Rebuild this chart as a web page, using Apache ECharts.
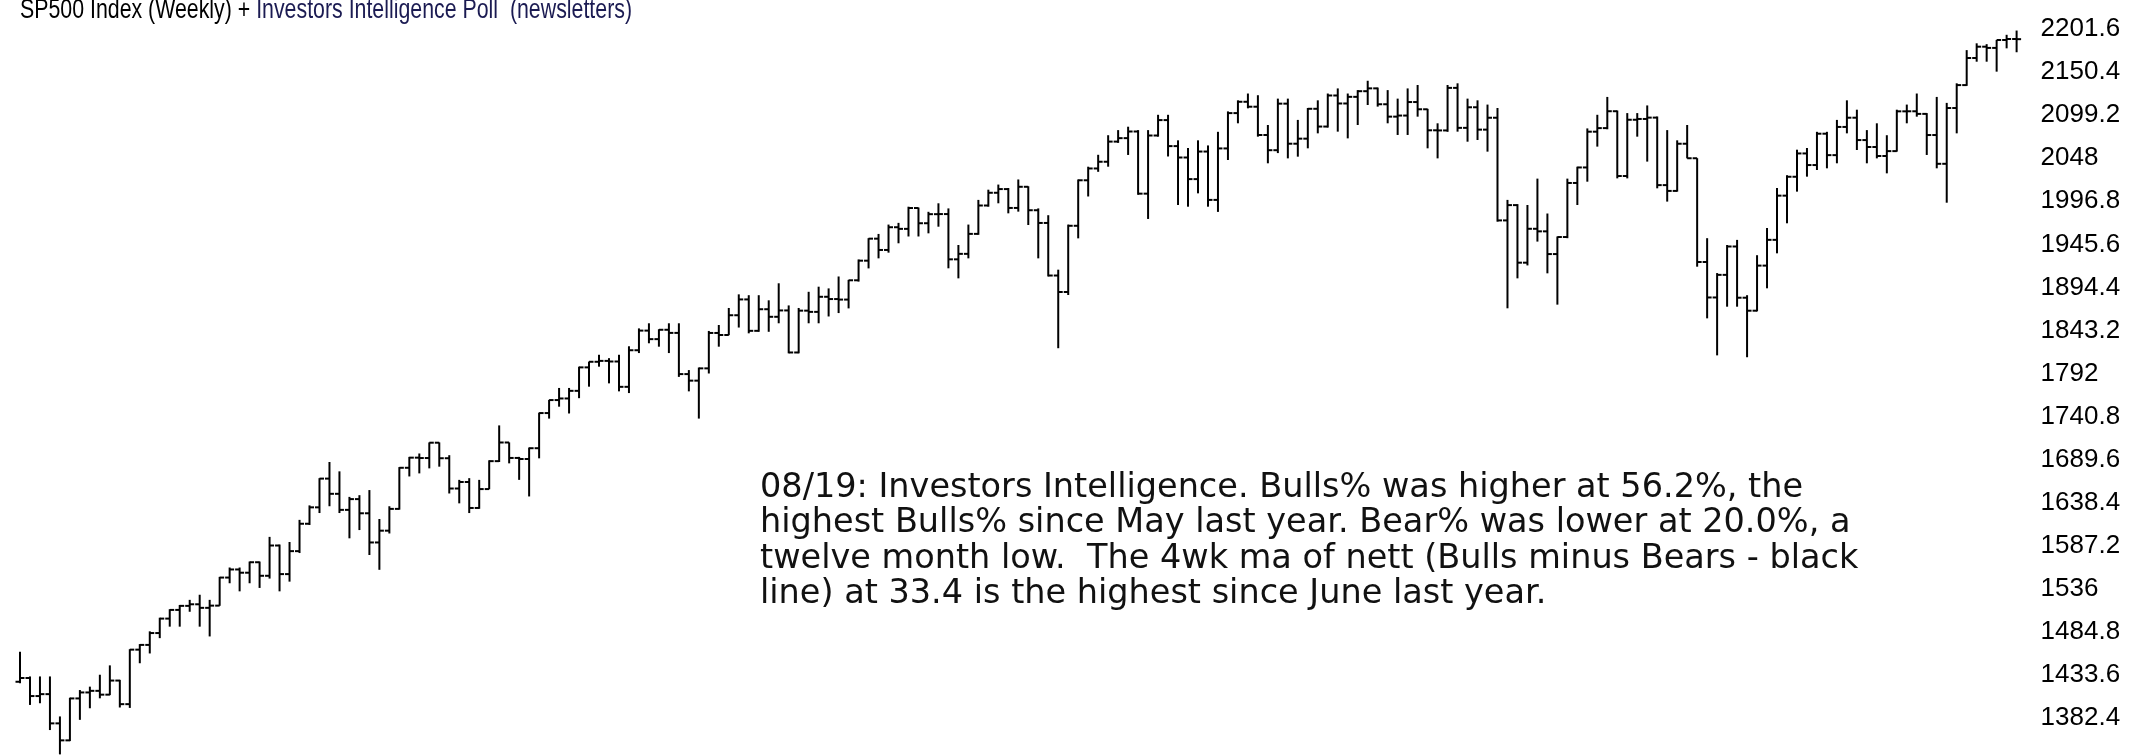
<!DOCTYPE html>
<html>
<head>
<meta charset="utf-8">
<script src="https://cdn.jsdelivr.net/npm/echarts@6/dist/echarts.min.js"></script>
<style>
    html, body { margin: 0; padding: 0; background: #fff; }
    #sp500-weekly { width: 2146px; height: 756px; }
</style>
</head>
<body>
<div id="sp500-weekly"></div>
<script>
// weekly S&P 500 bars, week ending 2012-10-19 .. 2016-08-19
let firstWeek = '2012-10-19';

let opens = [
    1428.75, 1433.19, 1411.94, 1414.20, 1379.85, 1359.88, 1409.15, 1416.18, 1418.07, 1413.58,
    1430.15, 1402.43, 1466.47, 1472.05, 1485.98, 1502.96, 1513.17, 1517.93, 1519.79, 1515.60,
    1518.20, 1551.18, 1560.70, 1556.89, 1569.19, 1553.28, 1588.85, 1555.25, 1582.24, 1614.42,
    1633.70, 1667.47, 1649.60, 1630.74, 1643.38, 1626.73, 1592.43, 1606.28, 1631.89, 1680.19,
    1692.09, 1691.65, 1709.67, 1691.42, 1655.83, 1663.50, 1632.97, 1655.17, 1687.99, 1709.91,
    1691.75, 1690.50, 1703.20, 1744.50, 1759.77, 1761.64, 1770.61, 1798.18, 1804.76, 1805.81,
    1805.09, 1775.32, 1818.32, 1841.40, 1831.37, 1842.37, 1838.70, 1790.29, 1782.59, 1797.02,
    1838.63, 1836.25, 1859.45, 1878.04, 1841.13, 1866.52, 1857.62, 1865.09, 1815.69, 1864.85,
    1863.40, 1881.14, 1878.48, 1877.86, 1900.53, 1923.57, 1949.44, 1936.16, 1962.87, 1960.96,
    1985.44, 1967.57, 1978.22, 1978.34, 1925.15, 1931.59, 1955.06, 1988.40, 2003.37, 2007.71,
    1985.54, 2010.40, 1982.85, 1967.90, 1906.13, 1886.76, 1964.58, 2018.05, 2031.92, 2039.82,
    2063.50, 2067.56, 2075.37, 2002.33, 2070.65, 2088.77, 2058.20, 2044.81, 2019.42, 2051.82,
    1994.99, 2055.47, 2096.99, 2110.30, 2104.50, 2071.26, 2053.40, 2108.10, 2061.02, 2066.96,
    2102.06, 2081.18, 2117.69, 2108.29, 2116.10, 2122.73, 2126.06, 2107.39, 2092.83, 2094.11,
    2109.99, 2101.49, 2076.78, 2076.62, 2126.64, 2079.65, 2103.84, 2077.57, 2091.54, 1970.89,
    1988.87, 1921.22, 1961.05, 1958.03, 1931.34, 1951.36, 2014.89, 2033.11, 2075.15, 2079.36,
    2099.20, 2023.04, 2089.17, 2090.11, 2091.69, 2012.37, 2005.55, 2060.99, 2043.94, 1922.03,
    1880.33, 1906.90, 1940.24, 1880.05, 1864.78, 1917.78, 1948.05, 1999.99, 2022.19, 2049.58,
    2035.94, 2072.78, 2047.60, 2080.73, 2091.58, 2065.30, 2057.14, 2046.61, 2052.32, 2099.06,
    2099.13, 2096.07, 2071.22, 2037.41, 2102.95, 2129.90, 2161.74, 2175.03, 2173.60, 2182.87,
    2184.05
];

let highs = [
    1464, 1435, 1435, 1435, 1388, 1410, 1419, 1423, 1437, 1448,
    1431, 1467, 1473, 1488, 1504, 1514, 1519, 1525, 1531, 1525,
    1552, 1563, 1563, 1570, 1570, 1599, 1590, 1593, 1619, 1636,
    1668, 1687, 1676, 1646, 1648, 1654, 1620, 1635, 1681, 1693,
    1697, 1710, 1710, 1695, 1666, 1668, 1666, 1689, 1730, 1710,
    1693, 1704, 1745, 1760, 1774, 1774, 1799, 1805, 1813, 1809,
    1813, 1823, 1844, 1850, 1843, 1850, 1850, 1795, 1798, 1841,
    1848, 1868, 1884, 1883, 1883, 1877, 1897, 1871, 1868, 1887,
    1893, 1891, 1905, 1901, 1925, 1950, 1955, 1966, 1968, 1987,
    1986, 1981, 1991, 1985, 1942, 1966, 1995, 2007, 2013, 2009,
    2019, 2011, 1985, 1977, 1913, 1966, 2019, 2034, 2048, 2071,
    2077, 2081, 2077, 2077, 2095, 2095, 2065, 2056, 2065, 2059,
    2075, 2099, 2112, 2120, 2118, 2083, 2114, 2114, 2089, 2103,
    2112, 2120, 2126, 2120, 2124, 2135, 2127, 2124, 2114, 2126,
    2130, 2102, 2085, 2130, 2132, 2114, 2112, 2107, 2103, 1995,
    1990, 1989, 2020, 1979, 1952, 2020, 2034, 2079, 2095, 2116,
    2100, 2097, 2097, 2106, 2093, 2077, 2065, 2083, 2044, 1950,
    1909, 1942, 1948, 1883, 1930, 1962, 2009, 2024, 2054, 2056,
    2075, 2075, 2089, 2112, 2101, 2077, 2085, 2071, 2101, 2107,
    2120, 2097, 2116, 2109, 2132, 2171, 2179, 2178, 2183, 2189,
    2194
];

let lows = [
    1427, 1401.5, 1403.5, 1372, 1343.4, 1359, 1384, 1397.6, 1409.3, 1413,
    1398.5, 1398, 1450.5, 1462, 1480, 1493.5, 1493.5, 1511, 1493.5, 1482,
    1518, 1544.5, 1535, 1544.5, 1539, 1550, 1535, 1546.4, 1580, 1613,
    1627, 1635, 1627, 1597.3, 1607, 1577.7, 1560.3, 1603, 1631, 1670,
    1673.6, 1679.5, 1681.5, 1650, 1638.4, 1627, 1632, 1655, 1687, 1685.4,
    1666, 1646.5, 1691.3, 1738, 1752, 1744, 1762, 1775.5, 1799, 1779.4,
    1770, 1768, 1815, 1826.5, 1822.5, 1815, 1787, 1770, 1738, 1791,
    1822.5, 1836, 1845, 1838.2, 1840, 1840, 1850, 1814.7, 1814.7, 1850,
    1850, 1858, 1862, 1867.5, 1899, 1914.5, 1926.3, 1933, 1944, 1952,
    1952, 1955.7, 1963.5, 1914.6, 1902.8, 1926.3, 1954, 1987, 1991, 1979.2,
    1981.2, 1965.5, 1926.3, 1905, 1820.7, 1883.2, 1949.8, 1999, 2028, 2034,
    2062, 2047.8, 2001, 1972.6, 2069.3, 2046, 1989, 1987, 2002.7, 1987,
    1980.9, 2041.9, 2085, 2102.6, 2069.3, 2038, 2050, 2043.8, 2045.8, 2055.6,
    2073.2, 2080, 2075.2, 2067.3, 2083, 2106.5, 2104.6, 2085, 2071.3, 2071.3,
    2092.8, 2055.6, 2043.8, 2075, 2075.2, 2063.4, 2065.4, 2051.7, 1969.4, 1867.6,
    1902.8, 1918, 1946, 1908.7, 1871.9, 1950, 1989, 2016.4, 2057.6, 2078,
    2020.3, 2020.3, 2069.3, 2040, 2008.6, 1993, 2004.7, 2043.8, 1916.5, 1855.8,
    1812.3, 1869.5, 1869.5, 1810.1, 1864, 1891.1, 1932.2, 1967.5, 2004.7, 2022.3,
    2030.1, 2032.1, 2038, 2073.2, 2053.6, 2038, 2043.8, 2026.2, 2051.7, 2085,
    2092.8, 2047.8, 2032.1, 1991.7, 2073.2, 2129, 2157.4, 2157.4, 2145.7, 2173.1,
    2168.5
];

let closes = [
    1433.19, 1411.94, 1414.20, 1379.85, 1359.88, 1409.15, 1416.18, 1418.07, 1413.58, 1430.15,
    1402.43, 1466.47, 1472.05, 1485.98, 1502.96, 1513.17, 1517.93, 1519.79, 1515.60, 1518.20,
    1551.18, 1560.70, 1556.89, 1569.19, 1553.28, 1588.85, 1555.25, 1582.24, 1614.42, 1633.70,
    1667.47, 1649.60, 1630.74, 1643.38, 1626.73, 1592.43, 1606.28, 1631.89, 1680.19, 1692.09,
    1691.65, 1709.67, 1691.42, 1655.83, 1663.50, 1632.97, 1655.17, 1687.99, 1709.91, 1691.75,
    1690.50, 1703.20, 1744.50, 1759.77, 1761.64, 1770.61, 1798.18, 1804.76, 1805.81, 1805.09,
    1775.32, 1818.32, 1841.40, 1831.37, 1842.37, 1838.70, 1790.29, 1782.59, 1797.02, 1838.63,
    1836.25, 1859.45, 1878.04, 1841.13, 1866.52, 1857.62, 1865.09, 1815.69, 1864.85, 1863.40,
    1881.14, 1878.48, 1877.86, 1900.53, 1923.57, 1949.44, 1936.16, 1962.87, 1960.96, 1985.44,
    1967.57, 1978.22, 1978.34, 1925.15, 1931.59, 1955.06, 1988.40, 2003.37, 2007.71, 1985.54,
    2010.40, 1982.85, 1967.90, 1906.13, 1886.76, 1964.58, 2018.05, 2031.92, 2039.82, 2063.50,
    2067.56, 2075.37, 2002.33, 2070.65, 2088.77, 2058.20, 2044.81, 2019.42, 2051.82, 1994.99,
    2055.47, 2096.99, 2110.30, 2104.50, 2071.26, 2053.40, 2108.10, 2061.02, 2066.96, 2102.06,
    2081.18, 2117.69, 2108.29, 2116.10, 2122.73, 2126.06, 2107.39, 2092.83, 2094.11, 2109.99,
    2101.49, 2076.78, 2076.62, 2126.64, 2079.65, 2103.84, 2077.57, 2091.54, 1970.89, 1988.87,
    1921.22, 1961.05, 1958.03, 1931.34, 1951.36, 2014.89, 2033.11, 2075.15, 2079.36, 2099.20,
    2023.04, 2089.17, 2090.11, 2091.69, 2012.37, 2005.55, 2060.99, 2043.94, 1922.03, 1880.33,
    1906.90, 1940.24, 1880.05, 1864.78, 1917.78, 1948.05, 1999.99, 2022.19, 2049.58, 2035.94,
    2072.78, 2047.60, 2080.73, 2091.58, 2065.30, 2057.14, 2046.61, 2052.32, 2099.06, 2099.13,
    2096.07, 2071.22, 2037.41, 2102.95, 2129.90, 2161.74, 2175.03, 2173.60, 2182.87, 2184.05,
    2183.87
];

// right-hand price labels (51.2 apart)
let tickLabels = [
    1382.4, 1433.6, 1484.8, 1536, 1587.2, 1638.4, 1689.6, 1740.8, 1792,
    1843.2, 1894.4, 1945.6, 1996.8, 2048, 2099.2, 2150.4, 2201.6
];

// visible price range, bottom to top of the picture
let yMin = 1341.5,
    yMax = 2229.9;
// the label column in the source is drawn a little tighter than the bars
let labelMin = 1337.3,
    labelMax = 2236.1;

let titleParts = ['SP500 Index (Weekly) + ', 'Investors Intelligence Poll  (newsletters)'];

let noteText = [
    '08/19: Investors Intelligence. Bulls% was higher at 56.2%, the',
    'highest Bulls% since May last year. Bear% was lower at 20.0%, a',
    'twelve month low.  The 4wk ma of nett (Bulls minus Bears - black',
    'line) at 33.4 is the highest since June last year.'
];

function weekLabels() {
    let out = [];
    let d = new Date(firstWeek + 'T00:00:00Z');
    for (let i = 0; i < closes.length; i++) {
        out.push(d.toISOString().slice(0, 10));
        d = new Date(d.getTime() + 7 * 86400000);
    }
    return out;
}

function renderBar(params, api) {
    let i = api.value(0);
    let o = api.coord([i, api.value(1)]);
    let c = api.coord([i, api.value(2)]);
    let l = api.coord([i, api.value(3)]);
    let h = api.coord([i, api.value(4)]);
    let tick = api.size([1, 0])[0] * 0.45;
    let st = {stroke: '#000', lineWidth: 2};
    return {
        type: 'group',
        children: [
            {type: 'line', shape: {x1: h[0], y1: h[1], x2: l[0], y2: l[1]}, style: st},
            {type: 'line', shape: {x1: o[0] - tick, y1: o[1], x2: o[0], y2: o[1]}, style: st},
            {type: 'line', shape: {x1: c[0], y1: c[1], x2: c[0] + tick, y2: c[1]}, style: st}
        ]
    };
}

// narrow title: measure it, then squeeze it to the width it has in the source
function titleGroup() {
    let font = '27px "Liberation Sans", Arial, sans-serif';
    let ctx = document.createElement('canvas').getContext('2d');
    ctx.font = font;
    let w1 = ctx.measureText(titleParts[0]).width;
    let w = ctx.measureText(titleParts[0] + titleParts[1]).width;
    return {
        type: 'group',
        x: 20,
        y: 11,
        scaleX: 612 / w,
        children: [
            {type: 'text', x: 0, y: 0, style: {text: titleParts[0], font: font, fill: '#000', verticalAlign: 'middle'}},
            {type: 'text', x: w1, y: 0, style: {text: titleParts[1], font: font, fill: '#1b1b52', verticalAlign: 'middle'}}
        ]
    };
}

let weeks = weekLabels();
let barData = closes.map(function (c, i) {
    return [i, opens[i], c, lows[i], highs[i]];
});

let chartDom = document.getElementById('sp500-weekly');
let myChart = echarts.init(chartDom, null, {renderer: 'canvas'});
let option = {
    backgroundColor: '#fff',
    animation: false,
    grid: {
        left: 15,
        top: 0,
        width: 2006.6,
        height: 756,
        outerBoundsMode: 'none'
    },
    xAxis: {
        type: 'category',
        data: weeks,
        boundaryGap: true,
        show: false
    },
    yAxis: [
        {
            type: 'value',
            min: yMin,
            max: yMax,
            show: false
        },
        {
            type: 'value',
            position: 'right',
            min: labelMin,
            max: labelMax,
            axisLine: {show: false},
            axisTick: {show: false},
            splitLine: {show: false},
            axisLabel: {
                customValues: tickLabels,
                margin: 19,
                color: '#000',
                fontSize: 26,
                fontFamily: '"Liberation Sans", Arial, sans-serif',
                formatter: function (value) {
                    return String(Math.round(value * 10) / 10);
                }
            }
        }
    ],
    graphic: [
        titleGroup(),
        {
            type: 'text',
            left: 760,
            top: 470,
            style: {
                text: noteText.join('\n'),
                font: '33.5px "DejaVu Sans", Verdana, sans-serif',
                lineHeight: 35.6,
                fill: '#111'
            }
        }
    ],
    series: [
        {
            name: 'SP500',
            type: 'custom',
            renderItem: renderBar,
            encode: {x: 0, y: [1, 2, 3, 4]},
            yAxisIndex: 0,
            data: barData,
            clip: false
        }
    ]
};
option && myChart.setOption(option);
</script>
</body>
</html>
